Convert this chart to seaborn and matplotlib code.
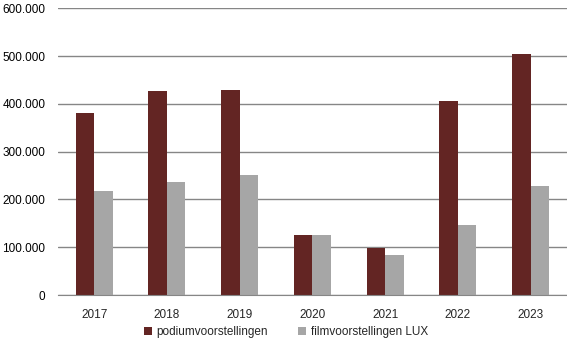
import matplotlib.pyplot as plt
import matplotlib.ticker as mticker
import seaborn as sns
import numpy as np
import pandas as pd

# Data
jaren = ["2017", "2018", "2019", "2020", "2021", "2022", "2023"]
podium = [381000, 427000, 430000, 126000, 99000, 407000, 505000]
film = [218000, 237000, 251000, 126000, 84000, 146000, 229000]
series_namen = ["podiumvoorstellingen", "filmvoorstellingen LUX"]

df = pd.DataFrame({
    "jaar": jaren * 2,
    "aantal": podium + film,
    "serie": [series_namen[0]] * len(jaren) + [series_namen[1]] * len(jaren),
})

sns.set_style("white")
plt.rcParams["font.family"] = ["Liberation Sans", "DejaVu Sans"]

fig = plt.figure(figsize=(5.67, 3.51), dpi=100)
ax = fig.add_axes([0.102, 0.1595, 0.898, 0.8165])

sns.barplot(data=df, x="jaar", y="aantal", hue="serie", order=jaren,
            hue_order=series_namen, palette=["#632523", "#A6A6A6"],
            width=0.51, saturation=1, linewidth=0, ax=ax, legend=True)

# Assen
ax.set_ylim(0, 600000)
ax.set_xlim(-0.5, len(jaren) - 0.5)
ax.yaxis.set_major_locator(mticker.MultipleLocator(100000))
ax.yaxis.set_major_formatter(mticker.FuncFormatter(lambda v, p: f"{int(v):,}".replace(",", ".")))
ax.grid(axis="y", color="#868686", linewidth=1)
ax.set_axisbelow(True)
ax.set_xlabel("")
ax.set_ylabel("")

for kant in ["top", "right", "left"]:
    ax.spines[kant].set_visible(False)
ax.spines["bottom"].set_color("#868686")

ax.tick_params(axis="y", length=0, pad=9, labelsize=8.5, labelcolor="black")
ax.tick_params(axis="x", which="major", length=0, pad=10, labelsize=8.5)
ax.set_xticks(np.arange(-0.5, len(jaren)), minor=True)
ax.tick_params(axis="x", which="minor", length=5, color="#868686", width=1)

# Legenda
handles, labels = ax.get_legend_handles_labels()
ax.get_legend().remove()
fig.legend(handles, labels, loc="center", bbox_to_anchor=(0.504, 0.054), ncol=2,
           frameon=False, fontsize=8.5, handlelength=0.7, handleheight=0.7,
           handletextpad=0.4, columnspacing=2.5)

fig.savefig("out.png", dpi=100)
